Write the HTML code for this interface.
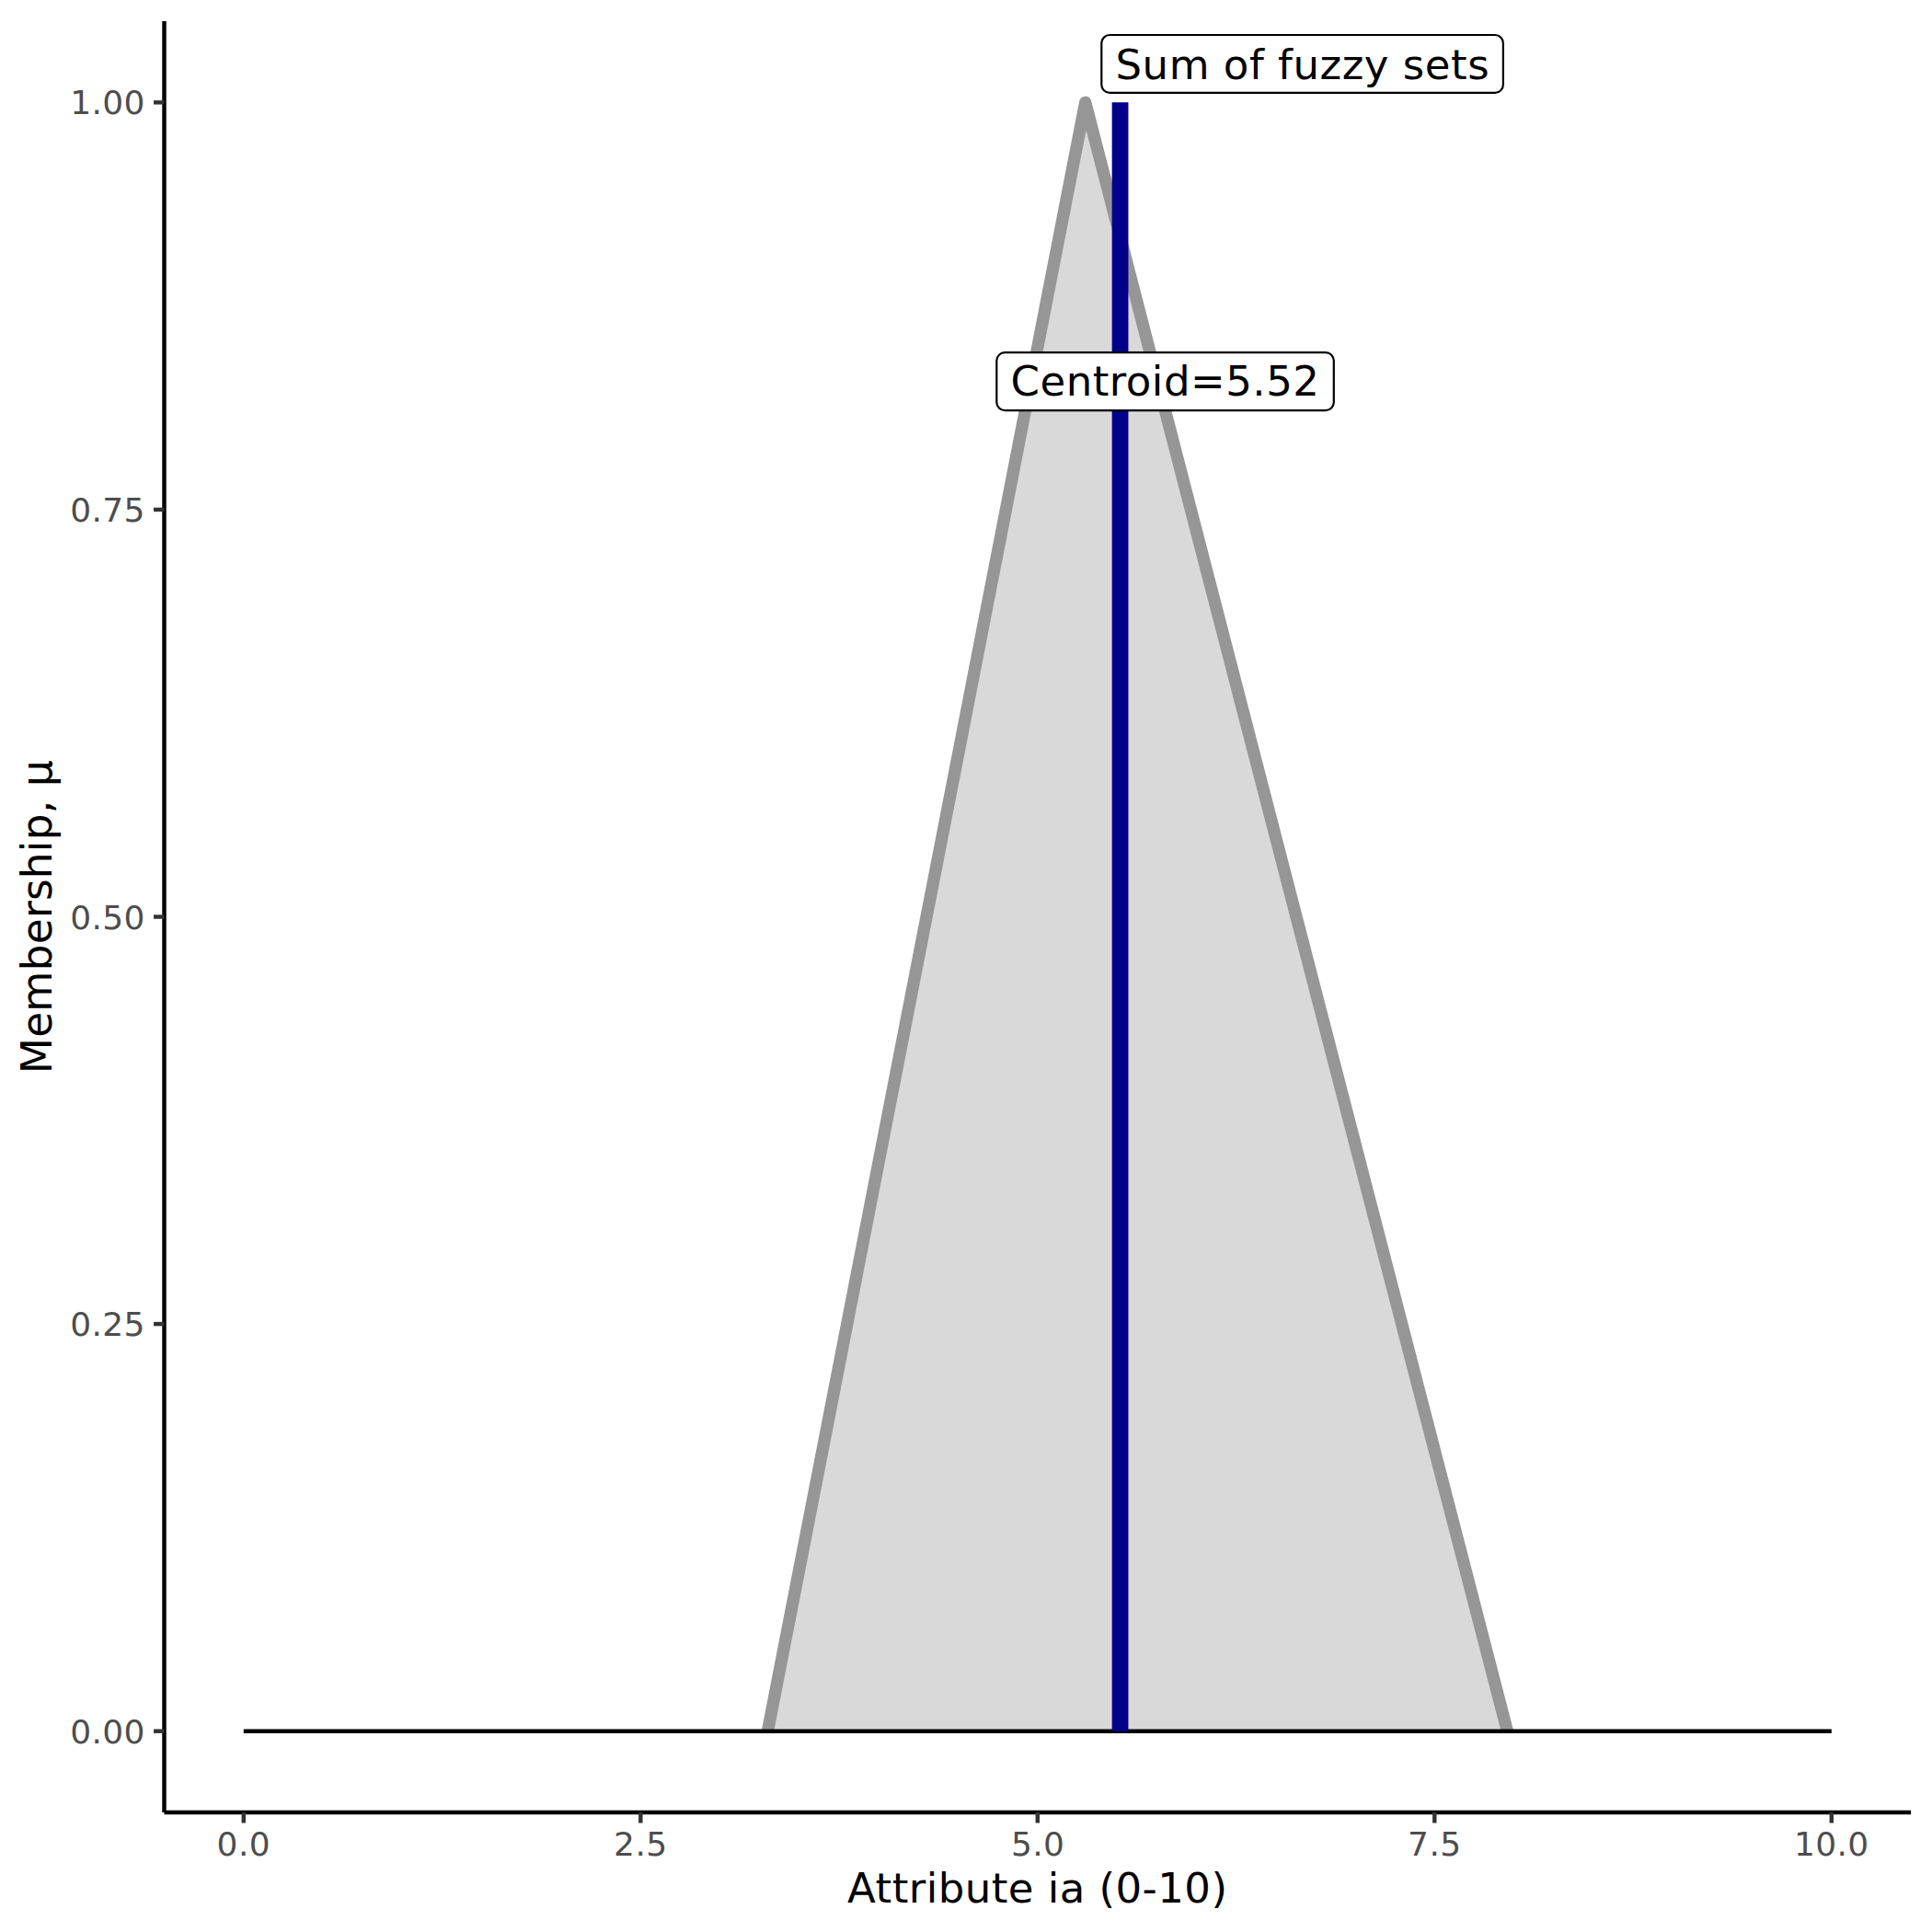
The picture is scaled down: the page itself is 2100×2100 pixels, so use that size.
<!DOCTYPE html>
<html lang="en"><head><meta charset="utf-8"><title>Sum of fuzzy sets</title>
<style>html,body{margin:0;padding:0;background:#fff}body{width:2100px;height:2100px;overflow:hidden}svg{display:block}text{font-family:"DejaVu Sans","Liberation Sans",sans-serif}</style></head><body>
<svg width="2100" height="2100" viewBox="0 0 2100 2100">
<rect width="2100" height="2100" fill="#ffffff"/>
<polygon points="834.45,1881.7 1179.7,111.35 1638.4,1881.7" fill="#D9D9D9"/>
<polyline points="834.45,1881.7 1179.7,111.35 1638.4,1881.7" fill="none" stroke="#969696" stroke-width="13.34" stroke-linejoin="round" stroke-linecap="butt"/>
<line x1="264.8" y1="1881.7" x2="1990.80" y2="1881.7" stroke="#000" stroke-width="4.45"/>
<line x1="1217.55" y1="111.35" x2="1217.55" y2="1881.7" stroke="#00008B" stroke-width="17.8"/>
<line x1="178.5" y1="22.9" x2="178.5" y2="1970.05" stroke="#000" stroke-width="4.45"/>
<line x1="178.5" y1="1970.05" x2="2077.1" y2="1970.05" stroke="#000" stroke-width="4.45"/>
<line x1="167.04" y1="1881.70" x2="178.5" y2="1881.70" stroke="#333333" stroke-width="4.45"/>
<text x="157.90" y="1895" font-size="36.0" letter-spacing="0.370" fill="#4D4D4D" text-anchor="end">0.00</text>
<line x1="167.04" y1="1439.11" x2="178.5" y2="1439.11" stroke="#333333" stroke-width="4.45"/>
<text x="157.90" y="1452" font-size="36.0" letter-spacing="0.370" fill="#4D4D4D" text-anchor="end">0.25</text>
<line x1="167.04" y1="996.53" x2="178.5" y2="996.53" stroke="#333333" stroke-width="4.45"/>
<text x="157.90" y="1010" font-size="36.0" letter-spacing="0.370" fill="#4D4D4D" text-anchor="end">0.50</text>
<line x1="167.04" y1="553.94" x2="178.5" y2="553.94" stroke="#333333" stroke-width="4.45"/>
<text x="157.90" y="567" font-size="36.0" letter-spacing="0.370" fill="#4D4D4D" text-anchor="end">0.75</text>
<line x1="167.04" y1="111.35" x2="178.5" y2="111.35" stroke="#333333" stroke-width="4.45"/>
<text x="157.90" y="124" font-size="36.0" letter-spacing="0.370" fill="#4D4D4D" text-anchor="end">1.00</text>
<line x1="264.80" y1="1970.05" x2="264.80" y2="1981.51" stroke="#333333" stroke-width="4.45"/>
<text x="264.80" y="2016.8" font-size="36.0" letter-spacing="0.370" fill="#4D4D4D" text-anchor="middle">0.0</text>
<line x1="696.30" y1="1970.05" x2="696.30" y2="1981.51" stroke="#333333" stroke-width="4.45"/>
<text x="696.30" y="2016.8" font-size="36.0" letter-spacing="0.370" fill="#4D4D4D" text-anchor="middle">2.5</text>
<line x1="1127.80" y1="1970.05" x2="1127.80" y2="1981.51" stroke="#333333" stroke-width="4.45"/>
<text x="1128.20" y="2016.8" font-size="36.0" letter-spacing="0.370" fill="#4D4D4D" text-anchor="middle">5.0</text>
<line x1="1559.30" y1="1970.05" x2="1559.30" y2="1981.51" stroke="#333333" stroke-width="4.45"/>
<text x="1559.30" y="2016.8" font-size="36.0" letter-spacing="0.370" fill="#4D4D4D" text-anchor="middle">7.5</text>
<line x1="1990.80" y1="1970.05" x2="1990.80" y2="1981.51" stroke="#333333" stroke-width="4.45"/>
<text x="1990.80" y="2016.8" font-size="36.0" letter-spacing="0.370" fill="#4D4D4D" text-anchor="middle">10.0</text>
<text x="1127.80" y="2068.0" font-size="45.0" letter-spacing="0.460" fill="#000" text-anchor="middle">Attribute ia (0-10)</text>
<text transform="translate(55.9,996.50) rotate(-90)" font-size="45.4" letter-spacing="0.240" fill="#000" text-anchor="middle">Membership, μ</text>
<rect x="1197.30" y="38.00" width="436.60" height="62.90" rx="9" ry="9" fill="#fff" stroke="#000" stroke-width="2.2"/>
<text x="1212.50" y="85.8" font-size="45.0" letter-spacing="0.530" fill="#000">Sum of fuzzy sets</text>
<rect x="1083.30" y="383.10" width="366.50" height="63.10" rx="9" ry="9" fill="#fff" stroke="#000" stroke-width="2.2"/>
<text x="1098.50" y="430.4" font-size="45.0" letter-spacing="0.510" fill="#000">Centroid=5.52</text>
</svg></body></html>
